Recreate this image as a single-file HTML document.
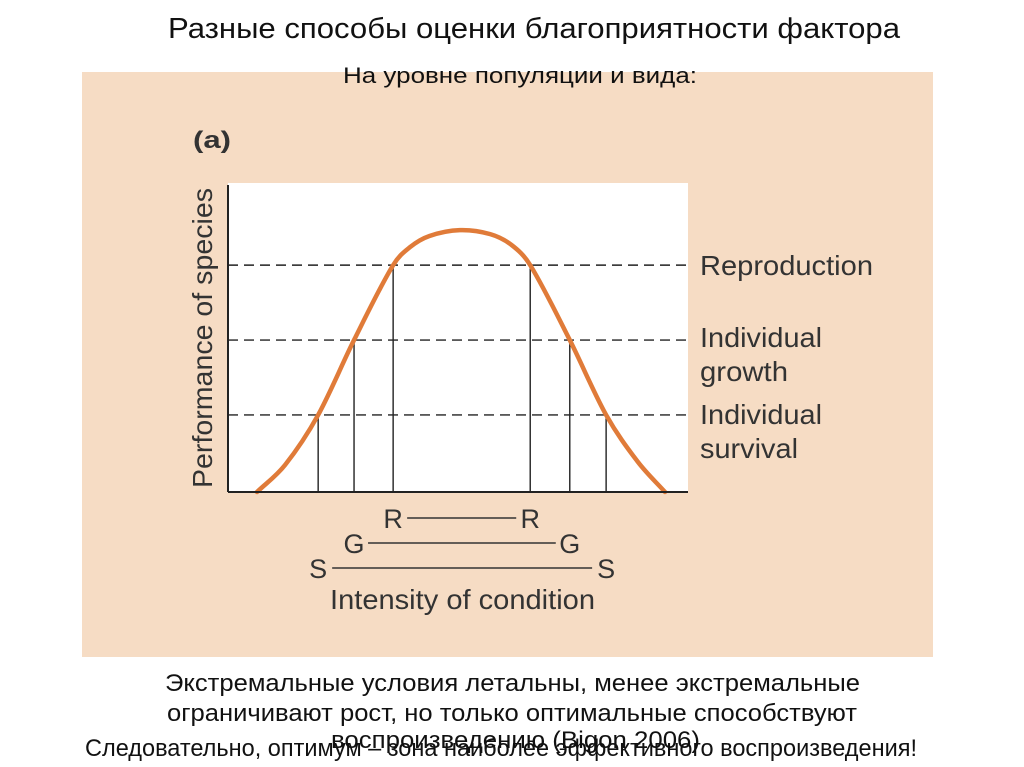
<!DOCTYPE html>
<html><head><meta charset="utf-8"><style>
html,body{margin:0;padding:0;background:#fff;width:1024px;height:767px;overflow:hidden}
text{font-family:"Liberation Sans","Noto Sans CJK SC",sans-serif}
</style></head><body>
<svg id="chart" width="1024" height="767" viewBox="0 0 1024 767" xmlns="http://www.w3.org/2000/svg">
<text x="168" y="38" font-size="29" textLength="732" lengthAdjust="spacingAndGlyphs" fill="#111">Разные способы оценки благоприятности фактора</text>
<rect x="82" y="72" width="851" height="585" fill="#f6dcc4"/>
<text x="343" y="83" font-size="22" textLength="354" lengthAdjust="spacingAndGlyphs" fill="#111">На уровне популяции и вида:</text>
<text x="193" y="148" font-size="24" font-weight="bold" textLength="38" lengthAdjust="spacingAndGlyphs" fill="#333">(a)</text>
<rect x="228" y="183" width="460" height="309" fill="#fff"/>
<g id="grid"></g>
<path id="curve" fill="none" stroke="#e07b39" stroke-width="4.5" stroke-linecap="round"/>
<line x1="228" y1="185" x2="228" y2="492" stroke="#222" stroke-width="2"/>
<line x1="228" y1="492" x2="688" y2="492" stroke="#222" stroke-width="2"/>
<text transform="translate(212,488) rotate(-90)" font-size="28" textLength="300" lengthAdjust="spacingAndGlyphs" fill="#333">Performance of species</text>
<g id="levelLabels" font-size="28" fill="#333">
<text x="700" y="275" textLength="173" lengthAdjust="spacingAndGlyphs">Reproduction</text>
<text x="700" y="347" textLength="122" lengthAdjust="spacingAndGlyphs">Individual</text>
<text x="700" y="381" textLength="88" lengthAdjust="spacingAndGlyphs">growth</text>
<text x="700" y="424" textLength="122" lengthAdjust="spacingAndGlyphs">Individual</text>
<text x="700" y="458" textLength="98" lengthAdjust="spacingAndGlyphs">survival</text>
</g>
<g id="ranges" font-size="27" fill="#333"></g>
<text x="330" y="609" font-size="28" textLength="265" lengthAdjust="spacingAndGlyphs" fill="#333">Intensity of condition</text>
<g font-size="24" fill="#111">
<text x="165" y="691" textLength="695" lengthAdjust="spacingAndGlyphs">Экстремальные условия летальны, менее экстремальные</text>
<text x="167" y="721" textLength="690" lengthAdjust="spacingAndGlyphs">ограничивают рост, но только оптимальные способствуют</text>
<text x="331" y="748" textLength="369" lengthAdjust="spacingAndGlyphs">воспроизведению (Bigon 2006)</text>
<text x="85" y="756" textLength="832" lengthAdjust="spacingAndGlyphs">Следовательно, оптимум – зона наиболее эффективного воспроизведения!</text>
</g>
</svg>
<script>
// data (x: intensity 0..1, y: performance 0..1)
const curveX = [0.063, 0.124, 0.196, 0.274, 0.359, 0.396, 0.438, 0.504, 0.570, 0.617, 0.657, 0.743, 0.822, 0.891, 0.950];
const curveY = [0.0, 0.088, 0.251, 0.495, 0.739, 0.798, 0.834, 0.853, 0.840, 0.804, 0.739, 0.495, 0.251, 0.098, 0.0];
const levelNames = ["reproduction", "growth", "survival"];
const levelValues = [0.739, 0.495, 0.251];
const rangeLeft = [0.359, 0.274, 0.196];
const rangeRight = [0.657, 0.743, 0.822];
const rangeLetters = ["R", "G", "S"];

const X0 = 228, X1 = 688, Y0 = 492, Y1 = 185;
const xs = v => X0 + v * (X1 - X0);
const ys = v => Y0 - v * (Y0 - Y1);
const NS = "http://www.w3.org/2000/svg";

// monotone-ish smooth curve via Catmull-Rom with chord-scaled tangents
const pts = curveX.map((x, i) => [xs(x), ys(curveY[i])]);
let d = "M" + pts[0][0] + "," + pts[0][1];
for (let i = 0; i < pts.length - 1; i++) {
  const p0 = pts[Math.max(0, i - 1)], p1 = pts[i], p2 = pts[i + 1], p3 = pts[Math.min(pts.length - 1, i + 2)];
  const h = p2[0] - p1[0];
  const s1 = (p2[1] - p0[1]) / ((p2[0] - p0[0]) || 1);
  const s2 = (p3[1] - p1[1]) / ((p3[0] - p1[0]) || 1);
  const c1 = [p1[0] + h / 3, p1[1] + s1 * h / 3];
  const c2 = [p2[0] - h / 3, p2[1] - s2 * h / 3];
  d += " C" + c1 + " " + c2 + " " + p2;
}
document.getElementById("curve").setAttribute("d", d);

const grid = document.getElementById("grid");
const ranges = document.getElementById("ranges");
levelValues.forEach((v, i) => {
  const l = document.createElementNS(NS, "line");
  
  
  l.setAttribute("x1", X0); l.setAttribute("x2", X1);
  l.setAttribute("y1", ys(v)); l.setAttribute("y2", ys(v));
  l.setAttribute("stroke", "#222"); l.setAttribute("stroke-width", "1.4");
  l.setAttribute("stroke-dasharray", "10,6");
  grid.appendChild(l);
  [rangeLeft[i], rangeRight[i]].forEach((xv, j) => {
    const vl = document.createElementNS(NS, "line");
    
    
    vl.setAttribute("x1", xs(xv)); vl.setAttribute("x2", xs(xv));
    vl.setAttribute("y1", ys(v)); vl.setAttribute("y2", Y0);
    vl.setAttribute("stroke", "#222"); vl.setAttribute("stroke-width", "1.4");
    grid.appendChild(vl);
  });
  const by = 528 + i * 25;
  const lx = xs(rangeLeft[i]), rx = xs(rangeRight[i]);
  const t1 = document.createElementNS(NS, "text");
  
  
  t1.setAttribute("x", lx); t1.setAttribute("y", by); t1.setAttribute("text-anchor", "middle");
  t1.textContent = rangeLetters[i]; ranges.appendChild(t1);
  const t2 = document.createElementNS(NS, "text");
  
  
  t2.setAttribute("x", rx); t2.setAttribute("y", by); t2.setAttribute("text-anchor", "middle");
  t2.textContent = rangeLetters[i]; ranges.appendChild(t2);
  const rl = document.createElementNS(NS, "line");
  
  
  rl.setAttribute("x1", lx + 14); rl.setAttribute("x2", rx - 14);
  rl.setAttribute("y1", by - 10); rl.setAttribute("y2", by - 10);
  rl.setAttribute("stroke", "#333"); rl.setAttribute("stroke-width", "1.5");
  ranges.appendChild(rl);
});
</script>
</body></html>
